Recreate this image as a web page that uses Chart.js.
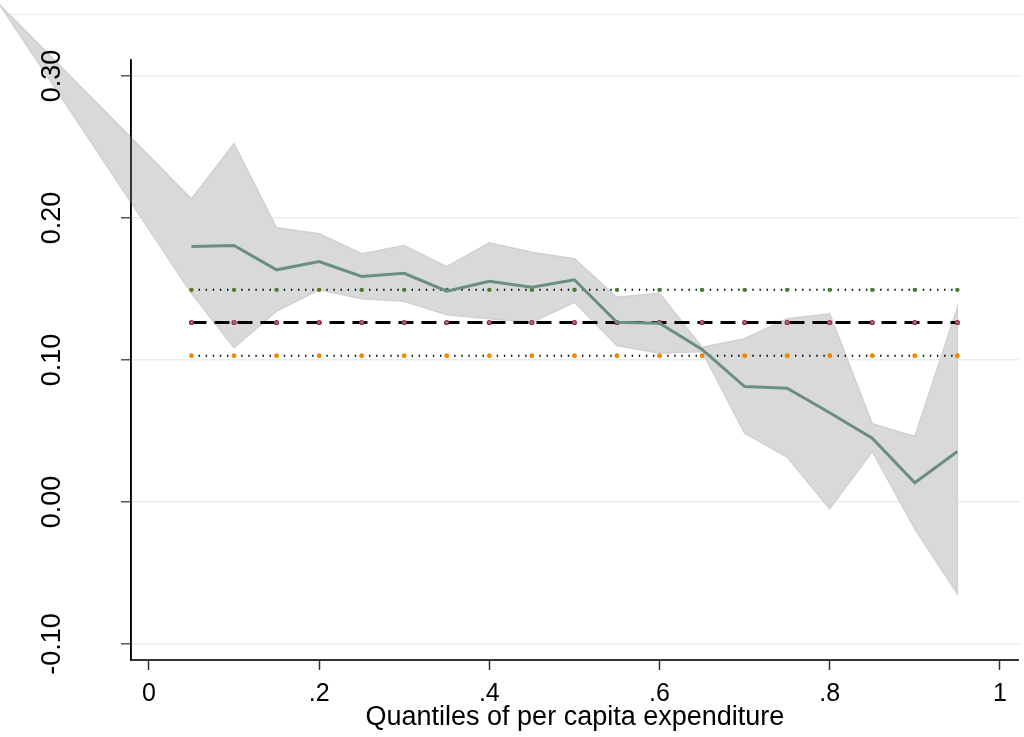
<!DOCTYPE html>
<html>
<head>
<meta charset="utf-8">
<script src="https://cdn.jsdelivr.net/npm/chart.js@4.4.1/dist/chart.umd.min.js"></script>
<style>
html,body{margin:0;padding:0;background:#ffffff;}
#wrap{width:1024px;height:737px;position:relative;}
canvas{display:block;}
</style>
</head>
<body>
<div id="wrap"><canvas id="c" width="1024" height="737"></canvas></div>
<script>
// ---- data ----
const quantiles = [0.05,0.10,0.15,0.20,0.25,0.30,0.35,0.40,0.45,0.50,0.55,0.60,0.65,0.70,0.75,0.80,0.85,0.90,0.95];
const coefQ  = [0.180,0.1806,0.1635,0.1694,0.1588,0.1611,0.1485,0.1555,0.1513,0.1565,0.1266,0.1259,0.1075,0.0813,0.0801,0.0628,0.0449,0.0135,0.0356];
const upperQ = [0.2135,0.2523,0.1931,0.1889,0.1748,0.1806,0.1658,0.1825,0.1759,0.1713,0.1442,0.1470,0.1090,0.1150,0.1290,0.1325,0.0551,0.0461,0.1368];
const lowerQ = [0.1470,0.1086,0.1344,0.1494,0.1431,0.1414,0.1318,0.1290,0.1266,0.1407,0.1102,0.1048,0.1060,0.0485,0.0316,-0.0048,0.0356,-0.0189,-0.0646];
const bandApexX = -0.175;
const bandApexY = 0.350;
const olsCoef  = 0.1264;
const olsUpper = 0.1494;
const olsLower = 0.1030;
const xTickValues = [0,0.2,0.4,0.6,0.8,1];
const xTickLabels = ['0','.2','.4','.6','.8','1'];
const yTickValues = [-0.1,0,0.1,0.2,0.3];
const yTickLabels = ['-0.10','0.00','0.10','0.20','0.30'];
const xTitle = 'Quantiles of per capita expenditure';

// ---- build datasets ----
const pts = (xs, ys) => xs.map((x,i)=>({x:x, y:ys[i]}));
const flat = v => quantiles.map(()=>v);
const bandUpper = [{x:bandApexX,y:bandApexY}].concat(pts(quantiles, upperQ));
const bandLower = [{x:bandApexX,y:bandApexY}].concat(pts(quantiles, lowerQ));

const FONT = "'Liberation Sans', Arial, Helvetica, sans-serif";

const bandPlugin = {
  id:'band',
  beforeDraw(chart){
    const ctx = chart.ctx;
    ctx.save();
    ctx.strokeStyle = '#edf3f4';
    ctx.lineWidth = 1.5;
    ctx.beginPath(); ctx.moveTo(10,14.5); ctx.lineTo(1024,14.5); ctx.stroke();
    ctx.restore();
  },
  beforeDatasetsDraw(chart){
    const up = chart.getDatasetMeta(0).data;
    const lo = chart.getDatasetMeta(1).data;
    const ctx = chart.ctx;
    ctx.save();
    ctx.beginPath();
    up.forEach((p,i)=>{ if(i===0) ctx.moveTo(p.x,p.y); else ctx.lineTo(p.x,p.y); });
    for(let i=lo.length-1;i>=0;i--) ctx.lineTo(lo[i].x, lo[i].y);
    ctx.closePath();
    ctx.fillStyle = '#d9d9d9';
    ctx.fill();
    ctx.strokeStyle = '#d1d1d1';
    ctx.lineWidth = 1.5;
    ctx.lineJoin = 'miter';
    ctx.stroke();
    ctx.restore();
  },
  afterDatasetsDraw(chart){
    const ctx = chart.ctx, a = chart.chartArea;
    ctx.save();
    ctx.strokeStyle = '#000';
    ctx.lineWidth = 1.5;
    ctx.beginPath(); ctx.moveTo(a.left, a.top); ctx.lineTo(a.left, a.bottom); ctx.stroke();
    ctx.restore();
  },
  afterDraw(chart){
    const ctx = chart.ctx, ys = chart.scales.y;
    ctx.save();
    ctx.fillStyle = '#000';
    ctx.font = "27px " + FONT;
    ctx.textAlign = 'center';
    ctx.textBaseline = 'alphabetic';
    yTickValues.forEach((v,i)=>{
      const py = ys.getPixelForValue(v);
      ctx.save();
      ctx.translate(60, py);
      ctx.rotate(-Math.PI/2);
      ctx.fillText(yTickLabels[i], 0, 0);
      ctx.restore();
    });
    ctx.restore();
  }
};

new Chart(document.getElementById('c'), {
  type:'scatter',
  data:{
    datasets:[
      {data:bandUpper, showLine:false, pointRadius:0, borderWidth:0, clip:false, order:10},
      {data:bandLower, showLine:false, pointRadius:0, borderWidth:0, clip:false, order:10},
      {data:pts(quantiles, flat(olsUpper)), showLine:true, borderColor:'#000', borderWidth:2,
       borderDash:[1.4,5.7], borderCapStyle:'butt', pointRadius:2.2, pointBackgroundColor:'#4f7a2e',
       pointBorderColor:'#4f7a2e', pointBorderWidth:0, order:3},
      {data:pts(quantiles, flat(olsLower)), showLine:true, borderColor:'#000', borderWidth:2,
       borderDash:[1.4,5.7], borderCapStyle:'butt', pointRadius:2.4, pointBackgroundColor:'#f08a00',
       pointBorderColor:'#f08a00', pointBorderWidth:0, order:3},
      {data:pts(quantiles, flat(olsCoef)), showLine:true, borderColor:'#000000', borderWidth:3,
       borderDash:[15,8], borderCapStyle:'butt', pointRadius:2, pointBackgroundColor:'#b86a78',
       pointBorderColor:'#8b2f40', pointBorderWidth:1.2, order:2},
      {data:pts(quantiles, coefQ), showLine:true, borderColor:'#6a8e7f', borderWidth:3,
       pointRadius:0, tension:0, order:1}
    ]
  },
  options:{
    responsive:false,
    animation:false,
    devicePixelRatio:1,
    layout:{padding:{top:60,right:1,left:0,bottom:3}},
    plugins:{legend:{display:false}, tooltip:{enabled:false}},
    scales:{
      x:{
        type:'linear',
        min:-0.02105, max:1.0222,
        afterBuildTicks:(s)=>{ s.ticks = xTickValues.map(v=>({value:v})); },
        ticks:{
          callback:(v)=>{ const i = xTickValues.findIndex(t=>Math.abs(t-v)<1e-9); return i>=0 ? xTickLabels[i] : ''; },
          font:{family:FONT, size:25}, color:'#000', padding:9, maxRotation:0, minRotation:0, autoSkip:false
        },
        grid:{drawOnChartArea:false, tickLength:10, tickColor:'#333', tickWidth:1.5},
        border:{color:'#333', width:2},
        title:{display:true, text:xTitle, font:{family:FONT, size:27}, color:'#000', padding:0},
        afterFit:(s)=>{ s.height = 74; s.paddingLeft = 0; s.paddingRight = 0; }
      },
      y:{
        type:'linear',
        min:-0.1113, max:0.3113,
        afterBuildTicks:(s)=>{ s.ticks = yTickValues.map(v=>({value:v})); },
        ticks:{display:false},
        grid:{color:'#e4eef0', lineWidth:1.5, tickLength:10, tickColor:'#555', tickWidth:1.5},
        border:{color:'#000', width:1.5},
        afterFit:(s)=>{ s.width = 131; s.paddingTop = 0; s.paddingBottom = 0; }
      }
    }
  },
  plugins:[bandPlugin]
});
</script>
</body>
</html>
